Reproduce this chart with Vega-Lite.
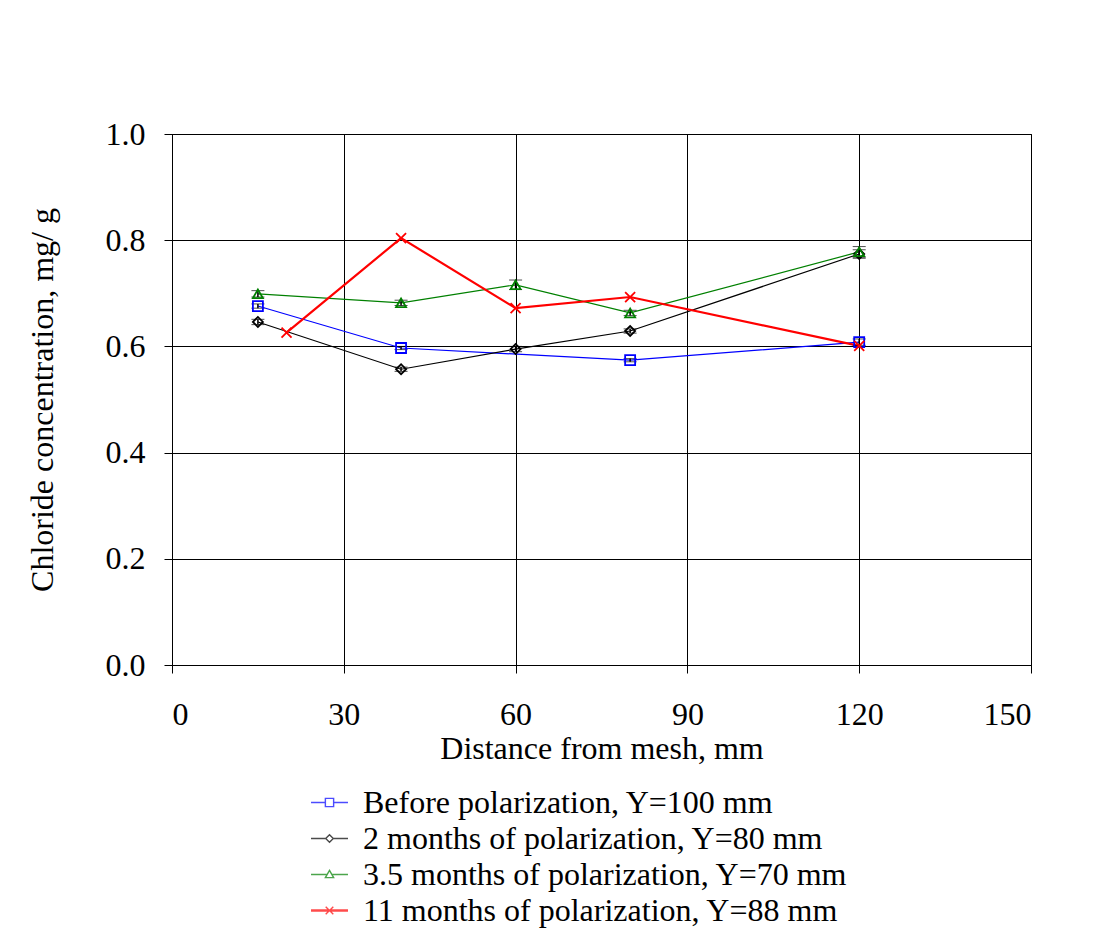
{
  "$schema": "https://vega.github.io/schema/vega-lite/v6.json",
  "width": 859,
  "height": 531,
  "autosize": {"type": "none"},
  "padding": {"left": 172, "top": 134, "right": 64, "bottom": 284},
  "background": "white",
  "config": {
    "font": "Liberation Serif",
    "view": {"stroke": "black", "strokeWidth": 1},
    "axis": {
      "labelFont": "Liberation Serif",
      "titleFont": "Liberation Serif",
      "labelFontSize": 32,
      "titleFontSize": 32,
      "titleFontWeight": "normal",
      "labelColor": "black",
      "titleColor": "black",
      "domainColor": "black",
      "tickColor": "black",
      "gridColor": "black",
      "gridOpacity": 1,
      "gridWidth": 1,
      "tickSize": 8
    },
    "legend": {
      "labelFont": "Liberation Serif",
      "labelFontSize": 32,
      "labelColor": "black",
      "labelLimit": 800
    }
  },
  "data": {
    "values": [
      {"series": "Before polarization, Y=100 mm", "x": 15, "y": 0.676, "err": 0.004},
      {"series": "Before polarization, Y=100 mm", "x": 40, "y": 0.597, "err": 0.003},
      {"series": "Before polarization, Y=100 mm", "x": 80, "y": 0.574, "err": 0.003},
      {"series": "Before polarization, Y=100 mm", "x": 120, "y": 0.608, "err": 0.006},
      {"series": "2 months of polarization, Y=80 mm", "x": 15, "y": 0.646, "err": 0.005},
      {"series": "2 months of polarization, Y=80 mm", "x": 40, "y": 0.557, "err": 0.004},
      {"series": "2 months of polarization, Y=80 mm", "x": 60, "y": 0.595, "err": 0.005},
      {"series": "2 months of polarization, Y=80 mm", "x": 80, "y": 0.629, "err": 0.004},
      {"series": "2 months of polarization, Y=80 mm", "x": 120, "y": 0.774, "err": 0.008},
      {"series": "3.5 months of polarization, Y=70 mm", "x": 15, "y": 0.699, "err": 0.006},
      {"series": "3.5 months of polarization, Y=70 mm", "x": 40, "y": 0.682, "err": 0.005},
      {"series": "3.5 months of polarization, Y=70 mm", "x": 60, "y": 0.716, "err": 0.009},
      {"series": "3.5 months of polarization, Y=70 mm", "x": 80, "y": 0.663, "err": 0.005},
      {"series": "3.5 months of polarization, Y=70 mm", "x": 120, "y": 0.778, "err": 0.01},
      {"series": "11 months of polarization, Y=88 mm", "x": 20, "y": 0.626, "err": 0},
      {"series": "11 months of polarization, Y=88 mm", "x": 40, "y": 0.804, "err": 0},
      {"series": "11 months of polarization, Y=88 mm", "x": 60, "y": 0.672, "err": 0},
      {"series": "11 months of polarization, Y=88 mm", "x": 80, "y": 0.693, "err": 0},
      {"series": "11 months of polarization, Y=88 mm", "x": 120, "y": 0.601, "err": 0}
    ]
  },
  "encoding": {
    "x": {
      "field": "x", "type": "quantitative",
      "scale": {"domain": [0, 150], "nice": false, "zero": false},
      "axis": {"values": [0, 30, 60, 90, 120, 150], "title": "Distance from mesh, mm", "labelPadding": 26, "titlePadding": 3, "grid": true}
    },
    "y": {
      "field": "y", "type": "quantitative",
      "scale": {"domain": [0, 1], "nice": false},
      "axis": {"values": [0, 0.2, 0.4, 0.6, 0.8, 1.0], "format": ".1f", "title": "Chloride concentration, mg/ g", "labelPadding": 19, "titlePadding": 46, "grid": true}
    }
  },
  "layer": [
    {
      "transform": [{"filter": "datum.series !== '11 months of polarization, Y=88 mm'"}],
      "mark": {"type": "line", "strokeWidth": 1.2},
      "encoding": {
        "color": {
          "field": "series", "type": "nominal",
          "scale": {
            "domain": ["Before polarization, Y=100 mm", "2 months of polarization, Y=80 mm", "3.5 months of polarization, Y=70 mm", "11 months of polarization, Y=88 mm"],
            "range": ["#0000FF", "#000000", "#008000", "#FF0000"]
          },
          "legend": null
        }
      }
    },
    {
      "transform": [{"filter": "datum.series === '11 months of polarization, Y=88 mm'"}],
      "mark": {"type": "line", "strokeWidth": 2.2, "color": "#FF0000"},
      "encoding": {}
    },
    {
      "transform": [{"filter": "datum.err > 0"}],
      "mark": {"type": "errorbar", "ticks": {"size": 13, "strokeWidth": 1.5}, "rule": {"strokeWidth": 1.5}, "color": "black"},
      "encoding": {
        "y": {"field": "y", "type": "quantitative"},
        "yError": {"field": "err"}
      }
    },
    {
      "mark": {"type": "point", "filled": false, "strokeWidth": 1.8, "opacity": 1},
      "encoding": {
        "color": {
          "field": "series", "type": "nominal",
          "scale": {
            "domain": ["Before polarization, Y=100 mm", "2 months of polarization, Y=80 mm", "3.5 months of polarization, Y=70 mm", "11 months of polarization, Y=88 mm"],
            "range": ["#0000FF", "#000000", "#008000", "#FF0000"]
          },
          "legend": null
        },
        "shape": {
          "field": "series", "type": "nominal",
          "scale": {
            "domain": ["Before polarization, Y=100 mm", "2 months of polarization, Y=80 mm", "3.5 months of polarization, Y=70 mm", "11 months of polarization, Y=88 mm"],
            "range": ["square", "diamond", "triangle-up", "M-1,-1L1,1M-1,1L1,-1"]
          },
          "legend": null
        },
        "size": {
          "field": "series", "type": "nominal",
          "scale": {
            "domain": ["Before polarization, Y=100 mm", "2 months of polarization, Y=80 mm", "3.5 months of polarization, Y=70 mm", "11 months of polarization, Y=88 mm"],
            "range": [100, 100, 110, 170]
          },
          "legend": null
        }
      }
    },
    {
      "transform": [{"filter": "false"}],
      "mark": {"type": "point", "filled": false, "strokeWidth": 1.4},
      "encoding": {
        "color": {
          "field": "series", "type": "nominal",
          "scale": {
            "domain": ["Before polarization, Y=100 mm", "2 months of polarization, Y=80 mm", "3.5 months of polarization, Y=70 mm", "11 months of polarization, Y=88 mm"],
            "range": ["#0000FF", "#000000", "#008000", "#FF0000"]
          },
          "legend": {
            "title": null, "orient": "none", "legendX": 140, "legendY": 651, "direction": "vertical",
            "symbolSize": 1089, "rowPadding": 2, "labelOffset": 16, "symbolStrokeWidth": 1.4
          }
        },
        "shape": {
          "field": "series", "type": "nominal",
          "scale": {
            "domain": ["Before polarization, Y=100 mm", "2 months of polarization, Y=80 mm", "3.5 months of polarization, Y=70 mm", "11 months of polarization, Y=88 mm"],
            "range": [
              "M-1.12,0H-0.25M0.25,0H1.12M-0.25,-0.25H0.25V0.25H-0.25Z",
              "M-1.12,0H-0.23M0.23,0H1.12M-0.23,0L0,-0.23L0.23,0L0,0.23Z",
              "M-1.12,0H-0.14M0.14,0H1.12M0,-0.25L0.25,0.19H-0.25Z",
              "M-1.12,0.035H1.12M-1.12,-0.035H1.12M-0.23,-0.23L0.23,0.23M-0.23,0.23L0.23,-0.23"
            ]
          },
          "legend": {
            "title": null, "orient": "none", "legendX": 140, "legendY": 651, "direction": "vertical",
            "symbolSize": 1089, "rowPadding": 2, "labelOffset": 16, "symbolStrokeWidth": 1.4
          }
        }
      }
    }
  ],
  "resolve": {"scale": {"color": "independent", "shape": "independent"}}
}
